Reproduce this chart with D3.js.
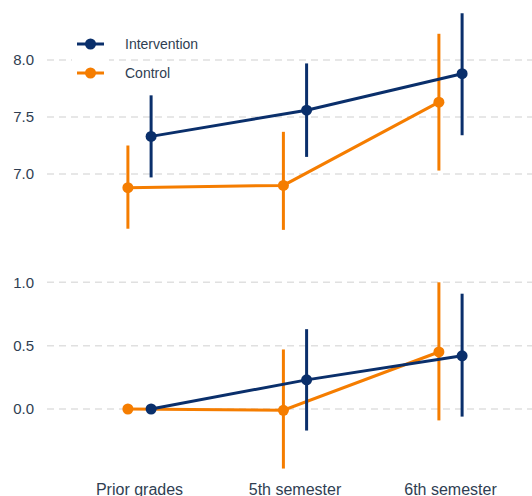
<!DOCTYPE html>
<html>
<head>
<meta charset="utf-8">
<script src="https://cdn.jsdelivr.net/npm/d3@7"></script>
<style>
  html, body { margin: 0; padding: 0; background: #fff; }
  svg { display: block; font-family: "Liberation Sans", Arial, sans-serif; }
</style>
</head>
<body>
<svg id="chart" width="532" height="496"></svg>
<script>
// Time points on the x axis
const timepoints = ["Prior grades", "5th semester", "6th semester"];
const groups = ["Control", "Intervention"];

// Upper panel: mean grades with 95% intervals
const gradeIntervention = [7.33, 7.56, 7.88];
const gradeInterventionLo = [6.97, 7.15, 7.34];
const gradeInterventionHi = [7.69, 7.97, 8.41];
const gradeControl = [6.88, 6.90, 7.63];
const gradeControlLo = [6.52, 6.51, 7.03];
const gradeControlHi = [7.25, 7.37, 8.23];

// Lower panel: change relative to prior grades
const changeIntervention = [0.00, 0.23, 0.42];
const changeInterventionLo = [null, -0.17, -0.06];
const changeInterventionHi = [null, 0.63, 0.91];
const changeControl = [0.00, -0.01, 0.45];
const changeControlLo = [null, -0.47, -0.09];
const changeControlHi = [null, 0.47, 1.00];

const topTicks = [7.0, 7.5, 8.0];
const bottomTicks = [0.0, 0.5, 1.0];

const colors = { Intervention: "#0a2f6b", Control: "#f57d00" };
const textColor = "#2f3e52";

const svg = d3.select("#chart");

const x = d3.scalePoint().domain(timepoints).range([139.5, 450.5]);
const dodge = d3.scaleOrdinal().domain(groups).range([-11.6, 11.6]);

const yTop = d3.scaleLinear().domain([7.0, 8.0]).range([174, 60]);
const yBottom = d3.scaleLinear().domain([0.0, 1.0]).range([409, 282.3]);

function panel(y, ticks, series) {
  const g = svg.append("g");
  // dashed horizontal gridlines
  g.selectAll("line.grid").data(ticks).join("line")
    .attr("x1", 47).attr("x2", 532)
    .attr("y1", d => y(d)).attr("y2", d => y(d))
    .attr("stroke", "#e0e0e0").attr("stroke-width", 1.5)
    .attr("stroke-dasharray", "7,5");
  // tick labels
  g.selectAll("text.tick").data(ticks).join("text")
    .attr("x", 34).attr("y", d => y(d)).attr("dy", "0.36em")
    .attr("text-anchor", "end").attr("fill", textColor)
    .attr("font-size", 15).text(d => d3.format(".1f")(d));

  series.forEach(s => {
    const pts = timepoints.map((t, i) => ({
      x: x(t) + dodge(s.name), v: s.mean[i], lo: s.lo[i], hi: s.hi[i]
    }));
    const c = colors[s.name];
    g.append("path").datum(pts)
      .attr("d", d3.line().x(d => d.x).y(d => y(d.v)))
      .attr("fill", "none").attr("stroke", c).attr("stroke-width", 3);
    g.selectAll(null).data(pts.filter(d => d.lo !== null)).join("line")
      .attr("x1", d => d.x).attr("x2", d => d.x)
      .attr("y1", d => y(d.lo)).attr("y2", d => y(d.hi))
      .attr("stroke", c).attr("stroke-width", 3);
    g.selectAll(null).data(pts).join("circle")
      .attr("cx", d => d.x).attr("cy", d => y(d.v)).attr("r", 5.5)
      .attr("fill", c);
  });
}

panel(yTop, topTicks, [
  { name: "Control", mean: gradeControl, lo: gradeControlLo, hi: gradeControlHi },
  { name: "Intervention", mean: gradeIntervention, lo: gradeInterventionLo, hi: gradeInterventionHi }
]);

panel(yBottom, bottomTicks, [
  { name: "Control", mean: changeControl, lo: changeControlLo, hi: changeControlHi },
  { name: "Intervention", mean: changeIntervention, lo: changeInterventionLo, hi: changeInterventionHi }
]);

// x axis labels
svg.append("g").selectAll("text").data(timepoints).join("text")
  .attr("x", d => x(d)).attr("y", 494.5)
  .attr("text-anchor", "middle").attr("fill", textColor)
  .attr("font-size", 16).text(d => d);

// legend
const legendItems = ["Intervention", "Control"];
const legend = svg.append("g");
legend.append("rect").attr("x", 72).attr("y", 30).attr("width", 37).attr("height", 58)
  .attr("fill", "#fff");
const item = legend.selectAll("g").data(legendItems).join("g")
  .attr("transform", (d, i) => `translate(0,${44 + i * 29})`);
item.append("line").attr("x1", 77).attr("x2", 104)
  .attr("stroke", d => colors[d]).attr("stroke-width", 3);
item.append("circle").attr("cx", 90.5).attr("r", 5.5).attr("fill", d => colors[d]);
item.append("text").attr("x", 125).attr("dy", "0.36em")
  .attr("fill", textColor).attr("font-size", 14).text(d => d);
</script>
</body>
</html>
